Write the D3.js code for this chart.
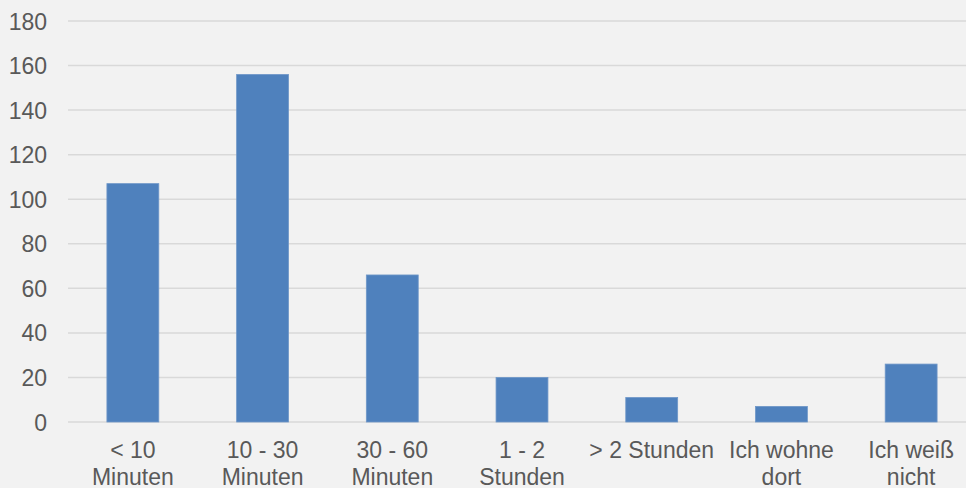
<!DOCTYPE html>
<html>
<head>
<meta charset="utf-8">
<script src="https://cdn.jsdelivr.net/npm/d3@7"></script>
<style>
  body { margin: 0; background: #f2f2f2; }
  svg { display: block; }
</style>
</head>
<body>
<script>
// categories (each entry = lines of the axis label)
var categories = [
  ["< 10", "Minuten"],
  ["10 - 30", "Minuten"],
  ["30 - 60", "Minuten"],
  ["1 - 2", "Stunden"],
  ["> 2 Stunden"],
  ["Ich wohne", "dort"],
  ["Ich weiß", "nicht"]
];
var values = [107, 156, 66, 20, 11, 7, 26];
var yTicks = [0, 20, 40, 60, 80, 100, 120, 140, 160, 180];

var svgWidth = 966;
var svgHeight = 488;

var margin = { top: 21, right: -10, bottom: 66, left: 68 };
var chartWidth = svgWidth - margin.left - margin.right;
var chartHeight = svgHeight - margin.top - margin.bottom;

var svg = d3.select("body")
  .append("svg")
  .attr("width", svgWidth)
  .attr("height", svgHeight);

svg.append("rect")
  .attr("width", svgWidth)
  .attr("height", svgHeight)
  .attr("fill", "#f2f2f2");

var chartGroup = svg.append("g")
  .attr("transform", `translate(${margin.left}, ${margin.top})`);

var xScale = d3.scaleBand()
  .domain(d3.range(categories.length))
  .range([0, chartWidth])
  .paddingInner(0.6)
  .paddingOuter(0.3);

var yScale = d3.scaleLinear()
  .domain([0, 180])
  .range([chartHeight, 0]);

// gridlines
chartGroup.selectAll("line.grid")
  .data(yTicks)
  .enter()
  .append("line")
  .attr("class", "grid")
  .attr("x1", 0)
  .attr("x2", chartWidth)
  .attr("y1", d => yScale(d))
  .attr("y2", d => yScale(d))
  .attr("stroke", "#d9d9d9")
  .attr("stroke-width", 1.5);

// y axis labels
var leftAxis = d3.axisLeft(yScale)
  .tickValues(yTicks)
  .tickSize(0)
  .tickPadding(21);

var yAxis = chartGroup.append("g").call(leftAxis);
yAxis.select(".domain").remove();
yAxis.selectAll("text")
  .attr("fill", "#595959")
  .attr("dy", "0.35em")
  .style("font-family", "'Liberation Sans', Arial, sans-serif")
  .style("font-size", "23px");

// bars
chartGroup.selectAll("rect.bar")
  .data(values)
  .enter()
  .append("rect")
  .attr("class", "bar")
  .attr("x", (d, i) => xScale(i))
  .attr("y", d => yScale(d))
  .attr("width", xScale.bandwidth())
  .attr("height", d => chartHeight - yScale(d))
  .attr("fill", "#4f81bd")
  .attr("stroke", "#6f97c8")
  .attr("stroke-width", 0.8);

// x labels
var xLabels = chartGroup.selectAll("text.xlabel")
  .data(categories)
  .enter()
  .append("text")
  .attr("class", "xlabel")
  .attr("text-anchor", "middle")
  .attr("fill", "#595959")
  .style("font-family", "'Liberation Sans', Arial, sans-serif")
  .style("font-size", "23px")
  .attr("transform", (d, i) => `translate(${xScale(i) + xScale.bandwidth() / 2}, ${chartHeight + 36})`);

xLabels.selectAll("tspan")
  .data(d => d)
  .enter()
  .append("tspan")
  .attr("x", 0)
  .attr("y", (d, i) => i * 27)
  .text(d => d);
</script>
</body>
</html>
